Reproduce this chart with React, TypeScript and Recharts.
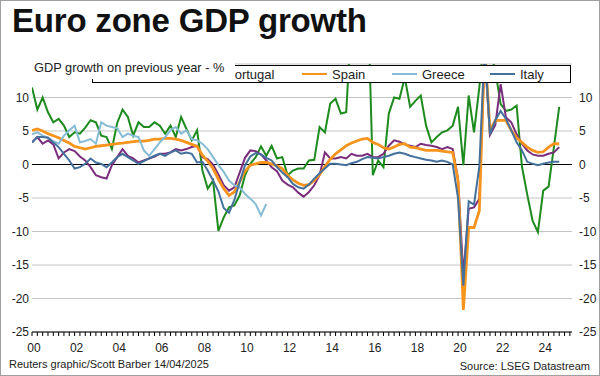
import React from 'react';
import { LineChart, Line, XAxis, YAxis, CartesianGrid, ReferenceLine } from 'recharts';

const startYear = 2000;

const ireland = [
  11.5, 8.2, 10.0, 7.8, 6.3, 6.8, 5.8, 4.1, 4.8, 4.6,
  5.5, 6.6, 6.3, 4.3, 4.1, 2.3, 6.2, 8.2, 7.1, 4.3,
  6.3, 5.6, 5.6, 6.3, 5.8, 4.6, 5.8, 4.1, 7.1, 5.3,
  3.6, 5.1, -0.9, -3.6, -2.4, -9.9, -7.9, -6.4, -6.1, -4.6,
  -1.6, 0.1, 1.1, 2.7, 1.3, 2.8, 0.9, 1.1, -1.6, -0.9,
  -0.6, -0.6, 0.6, 0.7, 5.6, 4.8, 9.1, 9.8, 7.6, 7.8,
  22, 24, 26, 27, -1.6, 0.6, -0.4, 7.6, 10.0, 9.8,
  13, 8.6, 9.5, 10.3, 5.8, 3.3, 4.1, 4.8, 5.1, 5.8,
  8.6, -0.1, 10.3, 4.8, 11.5, 20, 17, 14, 9.0, 8.0,
  8.2, 8.8, -0.3, -4.5, -8.4, -10.1, -3.9, -3.3, 2.6, 8.6,
];

const portugal = [
  3.3, 4.1, 3.1, 3.6, 3.0, 0.9, 1.8, 2.3, 2.0, 1.2,
  0.6, -0.4, -1.6, -1.9, -2.1, -0.1, 1.1, 2.3, 1.3, 0.9,
  0.3, 0.6, 0.9, 1.2, 1.6, 1.6, 1.8, 2.3, 2.1, 2.3,
  2.6, 2.8, 1.1, 0.8, 0.0, -1.5, -3.1, -3.9, -3.4, -1.2,
  1.0, 2.1, 2.0, 1.5, 0.6, -0.4, -1.0, -2.4, -3.0, -3.4,
  -4.2, -4.8, -4.1, -3.1, -1.6, 1.8, 0.9, 0.9, 1.1, 0.9,
  1.6, 1.3, 1.3, 1.6, 1.1, 1.1, 1.6, 2.8, 3.6, 3.4,
  3.0, 2.8, 2.6, 3.1, 2.9, 2.8, 2.6, 2.3, 2.6, 2.3,
  -2.2, -16.5, -6.6, -6.4, -5.1, 16.5, 4.4, 5.9, 12.0, 7.0,
  6.3, 4.5, 3.1, 2.1, 1.5, 1.3, 1.3, 1.6, 1.8, 2.6,
];

const spain = [
  5.1, 5.3, 5.0, 4.6, 4.3, 4.0, 3.6, 3.2, 2.7, 2.5,
  2.3, 2.5, 2.7, 2.8, 2.9, 3.0, 3.1, 3.2, 3.3, 3.4,
  3.5, 3.5, 3.6, 3.8, 3.8, 3.9, 3.9, 3.8, 3.6, 3.3,
  3.0, 2.7, 1.4, 0.5, -0.6, -2.2, -3.6, -4.6, -4.1, -2.6,
  -1.0, -0.1, 0.1, 0.3, 0.3, 0.1, -0.2, -0.6, -1.6, -2.3,
  -2.8, -3.1, -3.0, -2.4, -1.5, -0.3, 0.8, 1.6, 2.2, 2.8,
  3.2, 3.5, 3.8, 3.9, 3.3, 3.0, 2.5, 2.3, 2.6, 3.0,
  3.1, 2.6, 2.5, 2.3, 2.1, 2.1, 2.1, 2.0, 1.9, 1.8,
  -2.4, -21.7, -9.4, -9.4, -6.9, 17.8, 5.1, 6.6, 6.6, 6.6,
  5.1, 4.0, 3.3, 2.6, 2.1, 1.8, 1.9, 2.6, 3.1, 3.1,
];

const greece = [
  4.5, 4.8, 4.3, 4.0, 3.5, 3.1, 4.3, 5.1, 5.8, 3.3,
  3.5, 3.8, 3.1, 6.3, 5.8, 5.6, 5.4, 4.1, 4.6, 4.3,
  4.1, 2.1, 1.3, 2.3, 3.3, 4.1, 5.1, 5.6, 4.6, 5.1,
  3.8, 3.6, 3.1, 2.3, 1.1, -0.1, -1.1, -2.4, -3.1, -3.4,
  -4.4, -5.1, -5.9, -7.6, -5.9,
];

const italy = [
  3.3, 4.1, 4.1, 4.0, 3.3, 2.6, 1.6, 0.6, -0.6, -0.4,
  0.1, 0.9, 0.3, 0.1, -0.4, 0.3, 1.1, 1.6, 1.1, 0.6,
  0.1, 0.5, 0.9, 1.3, 1.6, 1.3, 1.8, 2.1, 1.6, 1.8,
  1.6, 0.3, 0.4, -0.9, -2.4, -4.0, -6.5, -7.2, -5.3, -2.6,
  -0.1, 1.2, 1.7, 1.5, 1.0, 0.6, -0.4, -1.2, -1.9, -2.9,
  -3.4, -3.6, -3.0, -2.1, -1.3, -0.6, 0.1, 0.1, 0.0, -0.1,
  0.2, 0.4, 0.8, 1.1, 1.0, 0.9, 1.1, 1.3, 1.6, 1.8,
  1.6, 1.3, 1.1, 0.9, 0.7, 0.6, 0.4, 0.6, 0.4, 0.0,
  -5.0, -18.1, -5.5, -6.0, -0.3, 17.5, 4.5, 6.6, 8.0, 6.8,
  5.1, 3.3, 2.1, 0.4, 0.1, -0.1, 0.1, 0.3, 0.4, 0.4,
];

const yTicks = [-25, -20, -15, -10, -5, 0, 5, 10];
const yearLabels = ['00', '02', '04', '06', '08', '10', '12', '14', '16', '18', '20', '22', '24'];

const seriesInfo = [
  { key: 'ireland', name: 'Ireland', color: '#1e8b1e', width: 2 },
  { key: 'portugal', name: 'Portugal', color: '#7b2d7d', width: 2 },
  { key: 'spain', name: 'Spain', color: '#f7941d', width: 2.8 },
  { key: 'greece', name: 'Greece', color: '#86bcd6', width: 2 },
  { key: 'italy', name: 'Italy', color: '#44709c', width: 2 },
];

// legend entries visible to the right of the chart subtitle
const legendItems = [
  { key: 'portugal', left: 103 },
  { key: 'spain', left: 209 },
  { key: 'greece', left: 299 },
  { key: 'italy', left: 397 },
];

const data = ireland.map((v, i) => ({
  t: startYear + i / 4,
  ireland: v,
  portugal: portugal[i],
  spain: spain[i],
  greece: i < greece.length ? greece[i] : null,
  italy: italy[i],
}));

const xTicks: number[] = [];
for (let q = 0; q <= 101; q++) xTicks.push(startYear + q / 4);

const PLOT_BOTTOM = 331;
const FONT = '"Liberation Sans", Arial, sans-serif';

const XTick = (props: any) => {
  const { x, payload } = props;
  const v = payload.value as number;
  const isYear = Math.abs(v - Math.round(v)) < 1e-6;
  const yi = Math.round(v) - startYear;
  const label = isYear && yi % 2 === 0 ? yearLabels[yi / 2] : null;
  return (
    <g>
      <line x1={x} x2={x} y1={PLOT_BOTTOM} y2={PLOT_BOTTOM + 4} stroke="#000" strokeWidth={1} />
      {label && (
        <text x={x + 2} y={PLOT_BOTTOM + 20} textAnchor="middle" fontSize={12} fill="#222" fontFamily={FONT}>
          {label}
        </text>
      )}
    </g>
  );
};

export default function App() {
  return (
    <div
      style={{
        position: 'absolute',
        left: 0,
        top: 0,
        width: 600,
        height: 376,
        background: '#fff',
        fontFamily: FONT,
        boxSizing: 'border-box',
        border: '1px solid #a0a0a0',
        overflow: 'hidden',
      }}
    >
      <div style={{ position: 'absolute', left: 0, top: 0 }}>
        <LineChart width={600} height={376} data={data} margin={{ top: 63, right: 0, left: 0, bottom: 15 }}>
          <CartesianGrid vertical={false} stroke="#c4c4c4" yAxisId="left" />
          <XAxis
            dataKey="t"
            type="number"
            domain={[2000, 2025.35]}
            ticks={xTicks}
            interval={0}
            tick={<XTick />}
            tickLine={false}
            axisLine={{ stroke: '#000', strokeWidth: 1 }}
            height={30}
            allowDataOverflow
          />
          <YAxis
            yAxisId="left"
            orientation="left"
            width={31}
            domain={[-25, 15]}
            ticks={yTicks}
            interval={0}
            allowDataOverflow
            axisLine={false}
            tickLine={false}
            tickSize={2}
            tickMargin={1}
            tick={{ fontSize: 12, fill: '#222', fontFamily: FONT }}
          />
          <YAxis
            yAxisId="right"
            orientation="right"
            width={29}
            domain={[-25, 15]}
            ticks={yTicks}
            interval={0}
            allowDataOverflow
            axisLine={false}
            tickLine={false}
            tickSize={4}
            tickMargin={3}
            tick={{ fontSize: 12, fill: '#222', fontFamily: FONT }}
          />
          <ReferenceLine yAxisId="left" y={0} stroke="#000" strokeWidth={1} />
          {seriesInfo.map((s) => (
            <Line
              key={s.key}
              name={s.name}
              yAxisId="left"
              type="linear"
              dataKey={s.key}
              stroke={s.color}
              strokeWidth={s.width}
              dot={false}
              activeDot={false}
              isAnimationActive={false}
              connectNulls={false}
            />
          ))}
        </LineChart>
      </div>

      <div
        style={{
          position: 'absolute',
          left: 11,
          top: 1,
          fontSize: 33,
          fontWeight: 'bold',
          color: '#111',
          whiteSpace: 'nowrap',
          letterSpacing: -0.2,
        }}
      >
        Euro zone GDP growth
      </div>

      <div
        style={{
          position: 'absolute',
          left: 91,
          top: 64,
          width: 479,
          height: 18,
          boxSizing: 'border-box',
          border: '1px solid #000',
          background: '#fff',
        }}
      >
        {legendItems.map((it) => {
          const s = seriesInfo.find((x) => x.key === it.key)!;
          return (
            <div
              key={s.key}
              style={{ position: 'absolute', left: it.left, top: 0, height: 16, display: 'flex', alignItems: 'center', whiteSpace: 'nowrap' }}
            >
              <div style={{ width: 25, height: 2, background: s.color, marginRight: 5 }} />
              <span style={{ fontSize: 13, color: '#222' }}>{s.name}</span>
            </div>
          );
        })}
      </div>

      <div
        style={{
          position: 'absolute',
          left: 29,
          top: 56,
          width: 205,
          height: 22,
          background: '#fff',
        }}
      >
        <div style={{ position: 'absolute', left: 4, top: 3, fontSize: 12.8, color: '#222', whiteSpace: 'nowrap' }}>
          GDP growth on previous year - %
        </div>
      </div>

      <div style={{ position: 'absolute', left: 8, top: 357, fontSize: 11, color: '#222', whiteSpace: 'nowrap' }}>
        Reuters graphic/Scott Barber 14/04/2025
      </div>
      <div style={{ position: 'absolute', right: 9, top: 359, fontSize: 11, color: '#222', whiteSpace: 'nowrap' }}>
        Source: LSEG Datastream
      </div>
    </div>
  );
}
